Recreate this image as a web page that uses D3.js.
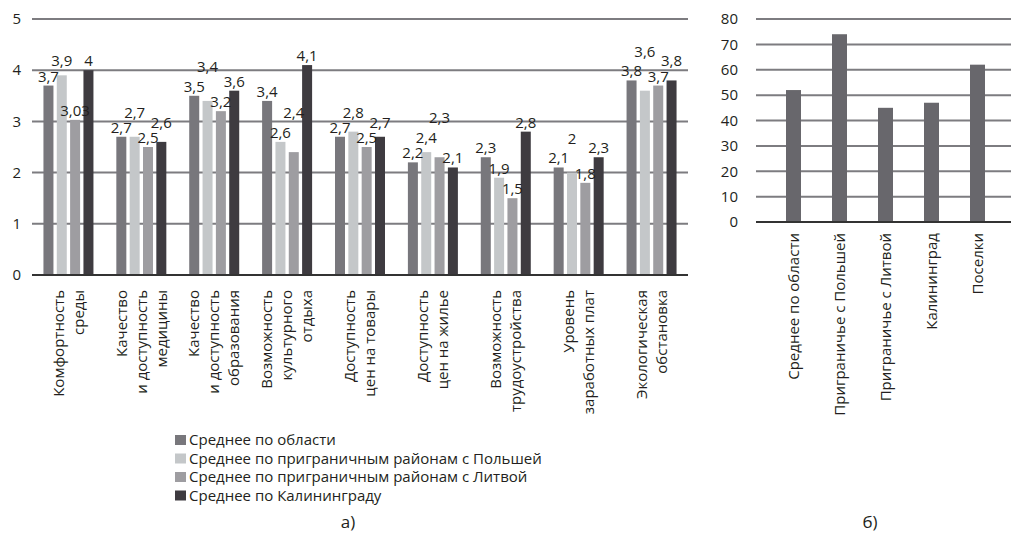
<!DOCTYPE html>
<html>
<meta charset=utf-8>
<head>
  <style>
    body { margin: 0; background: #fff; }
    text { font-family: "Open Sans", "Noto Sans", sans-serif; fill: #231f20; }
  </style>
</head>
<body>
<svg id="canvas" width="1011" height="537"></svg>
<script src="https://d3js.org/d3.v7.min.js"></script>
<script>

// chart a) categories (line breaks as in the picture)
var categories = [
  ['Комфортность', 'среды'],
  ['Качество', 'и доступность', 'медицины'],
  ['Качество', 'и доступность', 'образования'],
  ['Возможность', 'культурного', 'отдыха'],
  ['Доступность', 'цен на товары'],
  ['Доступность', 'цен на жилье'],
  ['Возможность', 'трудоустройства'],
  ['Уровень', 'заработных плат'],
  ['Экологическая', 'обстановка']
]
var seriesNames = [
  'Среднее по области',
  'Среднее по приграничным районам с Польшей',
  'Среднее по приграничным районам с Литвой',
  'Среднее по Калининграду'
]
var oblast      = [3.7, 2.7, 3.5, 3.4, 2.7, 2.2, 2.3, 2.1, 3.8]
var poland      = [3.9, 2.7, 3.4, 2.6, 2.8, 2.4, 1.9, 2.0, 3.6]
var lithuania   = [3.03, 2.5, 3.2, 2.4, 2.5, 2.3, 1.5, 1.8, 3.7]
var kaliningrad = [4.0, 2.6, 3.6, 4.1, 2.7, 2.1, 2.8, 2.3, 3.8]
var seriesValues = [oblast, poland, lithuania, kaliningrad]
var seriesColors = ['#78777c', '#c4c7c9', '#9e9da1', '#3e3b40']
var ticksA = [0, 1, 2, 3, 4, 5]

// chart b)
var catsB = ['Среднее по области', 'Приграничье с Польшей', 'Приграничье с Литвой', 'Калининград', 'Поселки']
var valuesB = [52, 74, 45, 47, 62]
var ticksB = [0, 10, 20, 30, 40, 50, 60, 70, 80]

var svg = d3.select('#canvas')
var fmt = function(v) { return String(v).replace('.', ',') }
var FS = 15

// ---------- chart a ----------
var x0 = d3.scaleBand().domain(d3.range(categories.length)).range([32, 688])
var x1 = d3.scaleBand().domain(d3.range(4)).range([0, 50]).paddingInner(0.25)
var offset = (x0.bandwidth() - 50) / 2
var yA = d3.scaleLinear().domain([0, 5]).range([275, 19])

var gA = svg.append('g')

gA.selectAll('line.grid')
  .data(ticksA.slice(1))
  .enter().append('line')
  .attr('x1', 32).attr('x2', 688)
  .attr('y1', function(d) { return yA(d) })
  .attr('y2', function(d) { return yA(d) })
  .attr('stroke', '#7d7c80')
  .attr('stroke-width', 2)

gA.selectAll('text.tick')
  .data(ticksA)
  .enter().append('text')
  .attr('x', 21)
  .attr('y', function(d) { return yA(d) })
  .attr('dy', '0.35em')
  .attr('text-anchor', 'end')
  .attr('font-size', FS)
  .text(function(d) { return d })

var bars = []
seriesValues.forEach(function(vals, s) {
  vals.forEach(function(v, i) { bars.push({s: s, i: i, v: v}) })
})
bars.sort(function(a, b) { return a.i - b.i || a.s - b.s })

gA.selectAll('rect')
  .data(bars)
  .enter().append('rect')
  .attr('x', function(d) { return x0(d.i) + offset + x1(d.s) })
  .attr('width', x1.bandwidth())
  .attr('y', function(d) { return yA(d.v) })
  .attr('height', function(d) { return yA(0) - yA(d.v) })
  .attr('fill', function(d) { return seriesColors[d.s] })

// value labels, raised when they would collide with an earlier one
var placed = []
gA.selectAll('text.val')
  .data(bars)
  .enter().append('text')
  .attr('class', 'val')
  .attr('x', function(d) { return x0(d.i) + offset + x1(d.s) + x1.bandwidth() / 2 })
  .attr('text-anchor', 'middle')
  .attr('font-size', FS)
  .text(function(d) { return fmt(d.v) })
  .each(function(d) {
    var w = this.getComputedTextLength()
    var cx = x0(d.i) + offset + x1(d.s) + x1.bandwidth() / 2
    var y = yA(d.v) - 4
    var hit = true
    while (hit) {
      hit = placed.some(function(p) {
        return Math.abs(p.cx - cx) < (p.w + w) / 2 && Math.abs(p.y - y) < 15
      })
      if (hit) y -= 5
    }
    placed.push({cx: cx, y: y, w: w})
    d3.select(this).attr('y', y)
  })

gA.append('line')
  .attr('x1', 32).attr('x2', 688)
  .attr('y1', yA(0)).attr('y2', yA(0))
  .attr('stroke', '#333')
  .attr('stroke-width', 2)

gA.selectAll('g.lab')
  .data(categories)
  .enter().append('g')
  .attr('transform', function(d, i) {
    return 'translate(' + (x0(i) + x0.bandwidth() / 2) + ',290) rotate(-90)'
  })
  .each(function(lines) {
    var n = lines.length
    d3.select(this).selectAll('text')
      .data(lines)
      .enter().append('text')
      .attr('text-anchor', 'end')
      .attr('font-size', FS)
      .attr('y', function(d, k) { return (k - (n - 1) / 2) * 20 })
      .attr('dy', '0.35em')
      .text(function(d) { return d })
  })

var legend = svg.append('g')
  .selectAll('g')
  .data(seriesNames)
  .enter().append('g')
  .attr('transform', function(d, i) { return 'translate(175,' + (440 + i * 18.5) + ')' })
legend.append('rect')
  .attr('x', 0).attr('y', -5).attr('width', 11).attr('height', 10)
  .attr('fill', function(d, i) { return seriesColors[i] })
legend.append('text')
  .attr('x', 14).attr('dy', '0.35em')
  .attr('font-size', FS)
  .text(function(d) { return d })

svg.append('text')
  .attr('x', 348).attr('y', 528)
  .attr('text-anchor', 'middle')
  .attr('font-size', 17)
  .text('а)')

// ---------- chart b ----------
var xB = d3.scaleBand().domain(catsB).range([755, 1016]).padding(0.674)
var yB = d3.scaleLinear().domain([0, 80]).range([222, 19])
var gB = svg.append('g')

gB.selectAll('line.grid')
  .data(ticksB.slice(1))
  .enter().append('line')
  .attr('x1', 756).attr('x2', 1011)
  .attr('y1', function(d) { return yB(d) })
  .attr('y2', function(d) { return yB(d) })
  .attr('stroke', '#7d7c80')
  .attr('stroke-width', 2)

gB.selectAll('text.tick')
  .data(ticksB)
  .enter().append('text')
  .attr('x', 738)
  .attr('y', function(d) { return yB(d) })
  .attr('dy', '0.35em')
  .attr('text-anchor', 'end')
  .attr('font-size', FS)
  .text(function(d) { return d })

gB.selectAll('rect')
  .data(valuesB)
  .enter().append('rect')
  .attr('x', function(d, i) { return xB(catsB[i]) })
  .attr('width', xB.bandwidth())
  .attr('y', function(d) { return yB(d) })
  .attr('height', function(d) { return yB(0) - yB(d) })
  .attr('fill', '#68676c')

gB.append('line')
  .attr('x1', 756).attr('x2', 1011)
  .attr('y1', yB(0)).attr('y2', yB(0))
  .attr('stroke', '#333')
  .attr('stroke-width', 2)

gB.selectAll('text.lab')
  .data(catsB)
  .enter().append('text')
  .attr('transform', function(d) {
    return 'translate(' + (xB(d) + xB.bandwidth() / 2) + ',233) rotate(-90)'
  })
  .attr('text-anchor', 'end')
  .attr('dy', '0.35em')
  .attr('font-size', FS)
  .text(function(d) { return d })

svg.append('text')
  .attr('x', 870).attr('y', 528)
  .attr('text-anchor', 'middle')
  .attr('font-size', 17)
  .text('б)')

</script>
</body>
</html>
